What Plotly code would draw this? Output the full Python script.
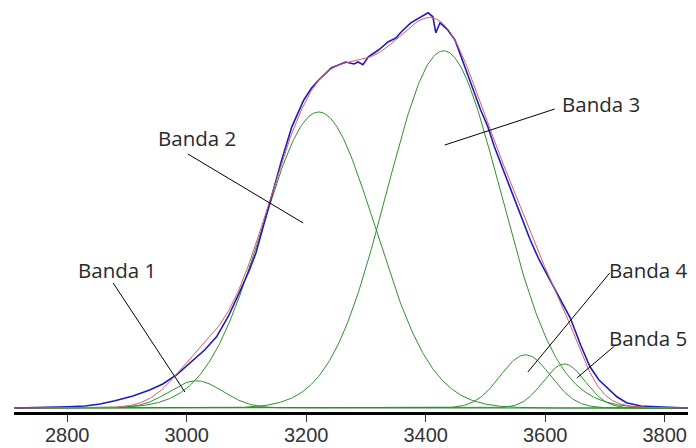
import numpy as np
import plotly.graph_objects as go

# ---- data ----
band_names = ["Banda 1", "Banda 2", "Banda 3", "Banda 4", "Banda 5"]
band_centers = [3016, 3221, 3430, 3567, 3632]          # cm-1
band_heights = [0.068, 0.740, 0.893, 0.133, 0.110]     # a.u.
band_sigmas = [45, 95, 95, 42, 35]                     # cm-1

meas_x = [2712, 2760, 2800, 2830, 2855, 2880, 2910, 2938, 2960, 2983, 3010, 3030,
          3050, 3070, 3088, 3105, 3116, 3130, 3138, 3149, 3159, 3176, 3196, 3209,
          3221, 3242, 3266, 3280, 3287, 3295, 3304, 3321, 3337, 3350, 3359, 3375,
          3392, 3404, 3412, 3417, 3424, 3437, 3449, 3465, 3480, 3492, 3504, 3515,
          3535, 3553, 3575, 3590, 3608, 3625, 3642, 3660, 3675, 3690, 3708, 3720,
          3736, 3760, 3786, 3840]
meas_y = [0.000, 0.001, 0.003, 0.005, 0.010, 0.018, 0.030, 0.045, 0.060, 0.083,
          0.120, 0.145, 0.178, 0.230, 0.288, 0.345, 0.388, 0.463, 0.508, 0.570,
          0.620, 0.703, 0.770, 0.800, 0.820, 0.850, 0.865, 0.860, 0.865, 0.858,
          0.878, 0.895, 0.915, 0.925, 0.940, 0.963, 0.978, 0.988, 0.978, 0.938,
          0.963, 0.945, 0.920, 0.853, 0.795, 0.745, 0.703, 0.653, 0.575, 0.503,
          0.420, 0.370, 0.320, 0.270, 0.225, 0.155, 0.103, 0.070, 0.045, 0.028,
          0.013, 0.005, 0.003, 0.000]

x_ticks = [2800, 3000, 3200, 3400, 3600, 3800]

# ---- figure ----
x_lo, x_hi = 2711, 3839
grid = np.arange(x_lo, x_hi + 1, 2.0)
fig = go.Figure()
total = np.zeros_like(grid)
for c, h, s in zip(band_centers, band_heights, band_sigmas):
    yb = h * np.exp(-(grid - c) ** 2 / (2 * s ** 2))
    total += yb
    fig.add_trace(go.Scatter(x=grid, y=yb, mode="lines",
                             line=dict(color="#2f8f2f", width=1), hoverinfo="skip"))

fig.add_trace(go.Scatter(x=meas_x, y=meas_y, mode="lines",
                         line=dict(color="#1c1cb8", width=1.6)))
fig.add_trace(go.Scatter(x=grid, y=total, mode="lines",
                         line=dict(color="#d85a6a", width=1)))

# leader lines and labels (positions in data coordinates)
label_pos = [(2884, 0.345), (3017, 0.675), (3693, 0.76), (3772, 0.345), (3772, 0.175)]
leader = [((2877, 0.3125), (2997, 0.04)),
          ((3002, 0.635), (3195, 0.4625)),
          ((3432, 0.6575), (3616, 0.7475)),
          ((3571, 0.09), (3708, 0.3375)),
          ((3653, 0.075), (3716, 0.155))]
for name, (lx, ly), ((x0, y0), (x1, y1)) in zip(band_names, label_pos, leader):
    fig.add_shape(type="line", x0=x0, y0=y0, x1=x1, y1=y1, xref="x", yref="y",
                  line=dict(color="black", width=1))
    fig.add_annotation(x=lx, y=ly, text=name, showarrow=False, xref="x", yref="y",
                       font=dict(family="Open Sans", size=20.5, color="#2a2a2a"))

# the page body adds an 8px offset; size and margins compensate for it
fig.update_layout(
    width=680, height=440, showlegend=False,
    margin=dict(l=6, r=0, t=0, b=36, autoexpand=False),
    paper_bgcolor="white", plot_bgcolor="white",
    xaxis=dict(range=[x_lo, x_hi], tickvals=x_ticks, ticks="outside", ticklen=7,
               tickcolor="#333", showgrid=False, zeroline=False, showline=True,
               linecolor="black", linewidth=2.5, automargin=False,
               ticklabelstandoff=-4,
               tickfont=dict(family="Liberation Sans, Arial", size=20, color="#333")),
    yaxis=dict(range=[-0.01, 1.0], visible=False, showgrid=False, zeroline=False,
               automargin=False),
)

fig.write_html("out.html")
